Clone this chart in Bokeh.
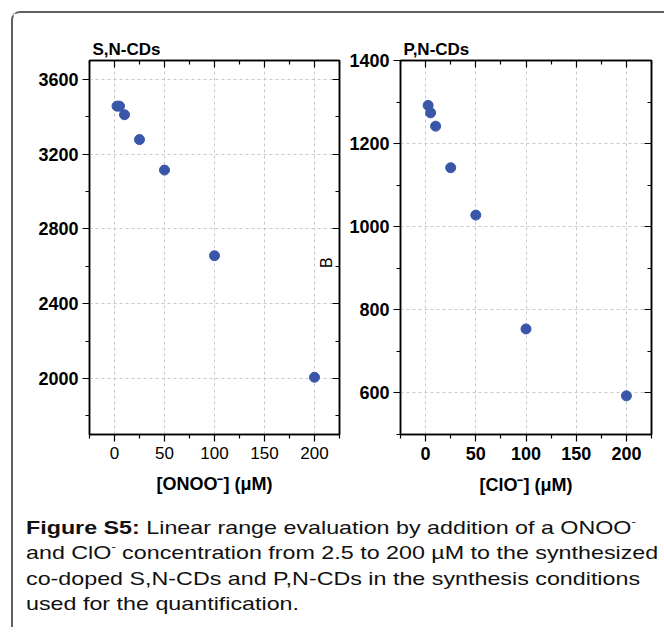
import math
from bokeh.plotting import figure
from bokeh.models import (ColumnDataSource, LinearAxis, FixedTicker, Range1d,
                          Label, Div, CustomJSTickFormatter)
from bokeh.layouts import row, column
from bokeh.embed import file_html
from bokeh.resources import INLINE

# ---------------- data ----------------
conc = [2.5, 5, 10, 25, 50, 100, 200]                 # µM
sn_values = [3456, 3456, 3410, 3277, 3114, 2656, 2006]  # S,N-CDs
pn_values = [1292, 1274, 1242, 1142, 1028, 754, 593]    # P,N-CDs

x_major = [0, 50, 100, 150, 200]
x_minor = [-25, 25, 75, 125, 175, 225]
sn_major = [2000, 2400, 2800, 3200, 3600]
sn_minor = [1800, 2200, 2600, 3000, 3400]
pn_major = [600, 800, 1000, 1200, 1400]
pn_minor = [500, 700, 900, 1100, 1300]

sn_title = "S,N-CDs"
pn_title = "P,N-CDs"
sn_xlabel = "[ONOO\u207b] (\u03bcM)"
pn_xlabel = "[ClO\u207b] (\u03bcM)"
extra_label = "B"
extra_label_pos = (212, 2619)

FONT = "Liberation Sans"
DOT = "#3a56a8"


def make_fig(title, xlabel, yvals, ymaj, ymin, yr, xbold, width, borders):
    l, r, t, b = borders
    p = figure(width=width, height=492, output_backend="svg",
               toolbar_location=None, x_range=Range1d(-25, 225),
               y_range=Range1d(*yr), x_axis_location=None,
               y_axis_location=None, min_border_left=l, min_border_right=r,
               min_border_top=t, min_border_bottom=b)
    p.outline_line_color = "black"
    p.outline_line_width = 1.5
    p.background_fill_color = "white"
    p.border_fill_color = "white"

    xt = FixedTicker(ticks=x_major, minor_ticks=x_minor)
    yt = FixedTicker(ticks=ymaj, minor_ticks=ymin)

    bottom = LinearAxis(ticker=xt, axis_label=xlabel)
    left = LinearAxis(ticker=yt)
    for ax in (bottom, left):
        ax.major_tick_out = 7
        ax.major_tick_in = 0
        ax.minor_tick_out = 4
        ax.minor_tick_in = 0
        ax.axis_line_width = 1.5
        ax.major_tick_line_width = 1.2
        ax.minor_tick_line_width = 1.2
        ax.major_label_text_font = FONT
        ax.major_label_text_color = "black"
        ax.axis_label_text_font = FONT
        ax.axis_label_text_font_style = "bold"
        ax.axis_label_text_font_size = "18px"
        ax.axis_label_text_color = "black"
        ax.major_label_standoff = 4
    left.major_label_text_font_style = "bold"
    left.major_label_text_font_size = "18px"
    bottom.major_label_text_font_style = "bold" if xbold else "normal"
    bottom.major_label_text_font_size = "18px" if xbold else "17px"
    bottom.major_label_standoff = 5
    bottom.axis_label_standoff = 12
    p.add_layout(bottom, "below")
    p.add_layout(left, "left")

    blank = CustomJSTickFormatter(code="return ''")
    top = LinearAxis(ticker=xt, formatter=blank)
    right = LinearAxis(ticker=yt, formatter=blank)
    for ax in (top, right):
        ax.major_tick_out = 0
        ax.major_tick_in = 7
        ax.minor_tick_out = 0
        ax.minor_tick_in = 4
        ax.axis_line_width = 1.5
        ax.major_tick_line_width = 1.2
        ax.minor_tick_line_width = 1.2
        ax.major_label_text_font_size = "1px"
        ax.major_label_standoff = 0
    p.add_layout(top, "above")
    p.add_layout(right, "right")

    p.xgrid.ticker = xt
    p.ygrid.ticker = yt
    for g in (p.xgrid, p.ygrid):
        g.grid_line_color = "#c8c8c8"
        g.grid_line_dash = "3 3"
        g.grid_line_width = 1

    p.title.text = title
    p.title.align = "left"
    p.title.offset = 3
    p.title.text_font = FONT
    p.title.text_font_style = "bold"
    p.title.text_font_size = "17px"
    p.title.text_color = "black"
    p.title.standoff = 4

    src = ColumnDataSource(dict(x=conc, y=yvals))
    p.scatter("x", "y", source=src, size=10, fill_color=DOT,
              line_color=DOT)
    return p


f1 = make_fig(sn_title, sn_xlabel, sn_values, sn_major, sn_minor,
              (1700, 3700), False, 332, (76, 6, 45, 71))
f1.add_layout(Label(x=extra_label_pos[0], y=extra_label_pos[1],
                    text=extra_label, angle=math.pi / 2,
                    text_align="center", text_baseline="middle",
                    text_font=FONT, text_font_size="16px",
                    text_color="black"))

f2 = make_fig(pn_title, pn_xlabel, pn_values, pn_major, pn_minor,
              (500, 1400), True, 319, (55, 13, 47, 68))

caption_html = (
    "<b>Figure S5:</b> Linear range evaluation by addition of a ONOO"
    "<sup style='font-size:0.55em;line-height:0;vertical-align:0.9em'>-</sup><br>"
    "and ClO<sup style='font-size:0.55em;line-height:0;vertical-align:0.9em'>-</sup>"
    " concentration from 2.5 to 200 \u00b5M to the synthesized<br>"
    "co-doped S,N-CDs and P,N-CDs in the synthesis conditions<br>"
    "used for the quantification."
)
cap = Div(text=caption_html, width=560, height=112, margin=(10, 0, 0, 13),
          styles={"font-family": "'Liberation Sans', Arial, sans-serif",
                  "font-size": "19px", "line-height": "25.3px",
                  "transform": "scaleX(1.225)", "transform-origin": "0 0",
                  "white-space": "nowrap", "color": "#111111"})

layout = column(row(f1, f2), cap, margin=(11, 0, 0, 11),
                styles={"border-left": "2px solid #606060",
                        "border-top": "2px solid #606060",
                        "border-top-left-radius": "9px"})

open("out.html", "w").write(file_html(layout, INLINE))
